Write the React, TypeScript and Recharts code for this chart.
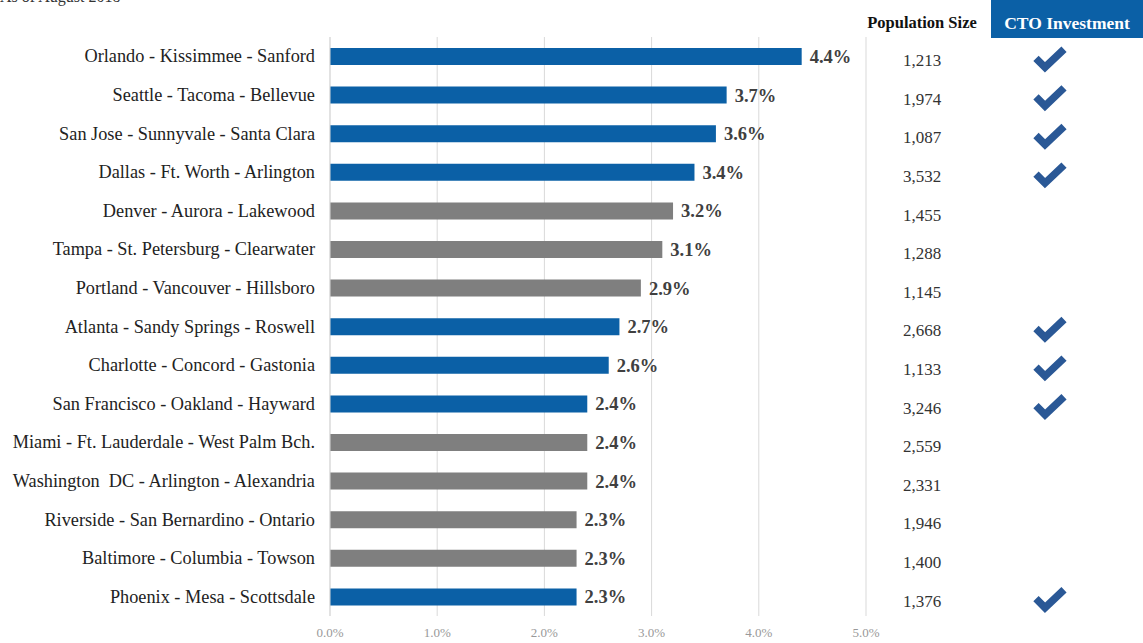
import React from "react";
import { BarChart, Bar, XAxis, YAxis, CartesianGrid, LabelList, Cell, ReferenceLine } from "recharts";

const metros = [
  "Orlando - Kissimmee - Sanford",
  "Seattle - Tacoma - Bellevue",
  "San Jose - Sunnyvale - Santa Clara",
  "Dallas - Ft. Worth - Arlington",
  "Denver - Aurora - Lakewood",
  "Tampa - St. Petersburg - Clearwater",
  "Portland - Vancouver - Hillsboro",
  "Atlanta - Sandy Springs - Roswell",
  "Charlotte - Concord - Gastonia",
  "San Francisco - Oakland - Hayward",
  "Miami - Ft. Lauderdale - West Palm Bch.",
  "Washington  DC - Arlington - Alexandria",
  "Riverside - San Bernardino - Ontario",
  "Baltimore - Columbia - Towson",
  "Phoenix - Mesa - Scottsdale",
];
const growth = [0.044, 0.037, 0.036, 0.034, 0.032, 0.031, 0.029, 0.027, 0.026, 0.024, 0.024, 0.024, 0.023, 0.023, 0.023];
const population = ["1,213", "1,974", "1,087", "3,532", "1,455", "1,288", "1,145", "2,668", "1,133", "3,246", "2,559", "2,331", "1,946", "1,400", "1,376"];
const ctoInvestment = [true, true, true, true, false, false, false, true, true, true, false, false, false, false, true];
const xTicks = [0, 0.01, 0.02, 0.03, 0.04, 0.05];

const data = metros.map((m, i) => ({
  metro: m,
  growth: growth[i],
  population: population[i],
  cto: ctoInvestment[i],
}));

const BLUE = "#0b60a6";
const GRAY = "#7f7f7f";
const CHECK = "#2a5896";
const FONT = "'Liberation Serif', 'Times New Roman', serif";

const LeftTick = (props: any) => {
  const { x, y, payload } = props;
  return (
    <text
      x={x}
      y={y}
      textAnchor="end"
      dominantBaseline="central"
      fontFamily={FONT}
      fontSize={18.3}
      fill="#222"
      style={{ whiteSpace: "pre" }}
    >
      {payload.value}
    </text>
  );
};

const RightTick = (props: any) => {
  const { x, y, payload } = props;
  const row = data.find((d) => d.metro === payload.value);
  if (!row) return null;
  const cx = x + 176;
  const cy = y + 4;
  return (
    <g>
      <text x={x + 48} y={y + 6} textAnchor="middle" dominantBaseline="middle" fontFamily={FONT} fontSize={17} fill="#333">
        {row.population}
      </text>
      {row.cto && (
        <polyline
          points={`${cx - 14},${cy - 2} ${cx - 5},${cy + 7} ${cx + 14},${cy - 11}`}
          fill="none"
          stroke={CHECK}
          strokeWidth={7.5}
          strokeLinejoin="miter"
        />
      )}
    </g>
  );
};

export default function App() {
  return (
    <div style={{ position: "absolute", left: 0, top: 0, width: 1143, height: 643, background: "#fff", overflow: "hidden" }}>
      <div
        style={{
          position: "absolute",
          left: 0,
          top: -12,
          fontFamily: FONT,
          fontSize: 16,
          color: "#333",
          whiteSpace: "nowrap",
        }}
      >
        As of August 2018
      </div>
      <div
        style={{
          position: "absolute",
          left: 863,
          top: 13,
          width: 118,
          textAlign: "center",
          fontFamily: FONT,
          fontSize: 16.5,
          fontWeight: "bold",
          color: "#111",
          whiteSpace: "nowrap",
        }}
      >
        Population Size
      </div>
      <div
        style={{
          position: "absolute",
          left: 991,
          top: 0,
          width: 152,
          height: 38,
          background: BLUE,
          color: "#fff",
          fontFamily: FONT,
          fontSize: 17.5,
          fontWeight: "bold",
          display: "flex",
          alignItems: "center",
          justifyContent: "center",
          paddingTop: 8,
          boxSizing: "border-box",
          whiteSpace: "nowrap",
        }}
      >
        CTO Investment
      </div>
      <BarChart
        width={1143}
        height={643}
        data={data}
        layout="vertical"
        margin={{ top: 37, right: 0, bottom: 0, left: 0 }}
        barCategoryGap={0}
      >
        <CartesianGrid horizontal={false} vertical stroke="#d9d9d9" />
        <XAxis
          type="number"
          domain={[0, 0.05]}
          ticks={xTicks}
          tickFormatter={(v: number) => `${(v * 100).toFixed(1)}%`}
          axisLine={false}
          tickLine={false}
          height={27}
          tickMargin={6}
          tick={{ fontFamily: FONT, fontSize: 13, fill: "#999" }}
        />
        <YAxis
          yAxisId="left"
          type="category"
          dataKey="metro"
          width={330}
          axisLine={false}
          tickLine={false}
          tickMargin={9}
          interval={0}
          tick={<LeftTick />}
        />
        <YAxis
          yAxisId="right"
          orientation="right"
          type="category"
          dataKey="metro"
          width={277}
          axisLine={false}
          tickLine={false}
          interval={0}
          tick={<RightTick />}
        />
        <ReferenceLine x={0} yAxisId="left" stroke="#d9d9d9" />
        <Bar dataKey="growth" yAxisId="left" barSize={17} isAnimationActive={false}>
          {data.map((d, i) => (
            <Cell key={i} fill={d.cto ? BLUE : GRAY} />
          ))}
          <LabelList
            dataKey="growth"
            position="right"
            offset={8}
            formatter={(v: number) => `${(v * 100).toFixed(1)}%`}
            style={{ fontFamily: FONT, fontSize: 18.5, fontWeight: "bold", fill: "#404040" }}
          />
        </Bar>
      </BarChart>
    </div>
  );
}
